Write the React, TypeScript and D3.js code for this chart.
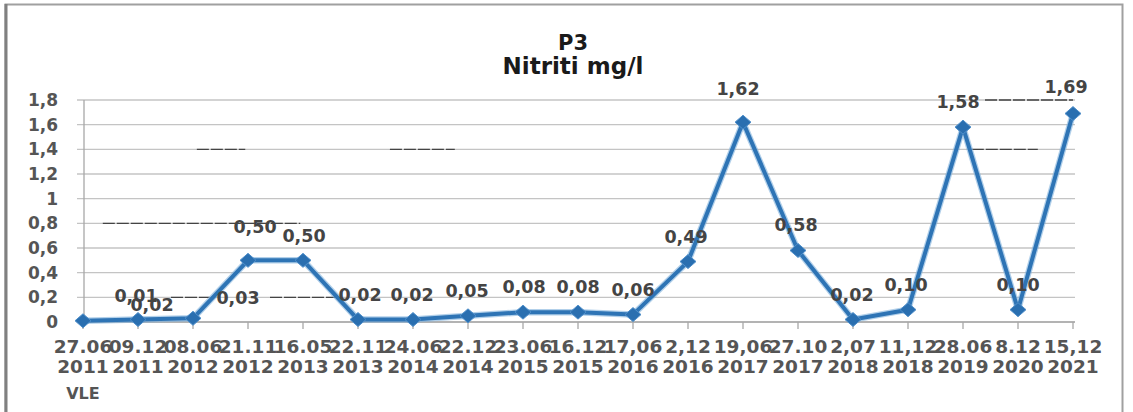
import * as d3 from "d3";

// sampling dates (two-line category labels)
const dates = ["27.06", "09.12", "08.06", "21.11", "16.05", "22.11", "24.06", "22.12", "23.06", "16.12", "17,06", "2,12", "19,06", "27.10", "2,07", "11,12", "28.06", "8.12", "15,12"];
const years = ["2011", "2011", "2012", "2012", "2013", "2013", "2014", "2014", "2015", "2015", "2016", "2016", "2017", "2017", "2018", "2018", "2019", "2020", "2021"];
const values = [0.01, 0.02, 0.03, 0.5, 0.5, 0.02, 0.02, 0.05, 0.08, 0.08, 0.06, 0.49, 1.62, 0.58, 0.02, 0.1, 1.58, 0.1, 1.69];
const labels = ["0,01", "0,02", "0,03", "0,50", "0,50", "0,02", "0,02", "0,05", "0,08", "0,08", "0,06", "0,49", "1,62", "0,58", "0,02", "0,10", "1,58", "0,10", "1,69"];
// manual data-label nudges (as placed in the original sheet)
const labelDx = [53, 14, 45, 7, 1, 2, -1, -1, 1, 0, 0, -2, -5, -2, -1, -2, -5, 0, -7];
const labelDy = [-19, -9, -14, -27, -18, -19, -19, -19, -19, -19, -19, -19, -27, -19, -19, -19, -19, -19, -21];
const yTicks = [0, 0.2, 0.4, 0.6, 0.8, 1, 1.2, 1.4, 1.6, 1.8];
// darker scan bleed-through pieces on gridlines: [fromIndex, toIndex, value]
const ghosts: [number, number, number][] = [
  [2.07, 2.95, 1.4],
  [5.58, 6.76, 1.4],
  [0.36, 3.95, 0.8],
  [1.6, 2.3, 0.2],
  [3.4, 4.6, 0.2],
  [16.4, 18, 1.8],
  [16.16, 17.36, 1.4],
];

const W = 1133;
const H = 412;
const font = "'DejaVu Sans', Verdana, sans-serif";

export default function App() {
  const x = d3.scaleLinear().domain([0, dates.length - 1]).range([83, 1073]);
  const y = d3.scaleLinear().domain([0, 1.8]).range([322, 100]);

  const line = d3
    .line<number>()
    .x((_, i) => x(i))
    .y((d) => y(d));

  const fmt = (v: number) => String(v).replace(".", ",");

  return (
    <svg
      width={W}
      height={H}
      style={{ position: "absolute", left: 0, top: 0, background: "#fff" }}
      fontFamily={font}
    >
      {/* chart frame */}
      <rect x={5.5} y={4.5} width={1117} height={430} fill="none" stroke="#a0a0a0" strokeWidth={2} />
      <line x1={6} x2={6} y1={4} y2={H} stroke="#808080" strokeWidth={3} />

      {/* title */}
      <text x={573} y={50} textAnchor="middle" fontSize={21} fontWeight="bold" fill="#1a1a1a">
        P3
      </text>
      <text x={573} y={74} textAnchor="middle" fontSize={23} fontWeight="bold" fill="#1a1a1a">
        Nitriti mg/l
      </text>

      {/* grid + y axis */}
      {yTicks.map((t) => (
        <g key={t}>
          <line x1={77} x2={1075} y1={y(t)} y2={y(t)} stroke="#c4c4c4" strokeWidth={1.3} />
          <text x={58} y={y(t) + 6} textAnchor="end" fontSize={17} fontWeight="bold" fill="#555">
            {fmt(t)}
          </text>
        </g>
      ))}
      {ghosts.map(([a, b, v], i) => (
        <line key={i} x1={x(a)} x2={x(b)} y1={y(v)} y2={y(v)} stroke="#444" strokeWidth={1.4} strokeDasharray="12 2" />
      ))}
      <line x1={84} x2={84} y1={y(1.8)} y2={y(0)} stroke="#a8a8a8" strokeWidth={1.3} />

      {/* x axis */}
      <line x1={84} x2={1075} y1={y(0)} y2={y(0)} stroke="#a8a8a8" strokeWidth={1.3} />
      {dates.map((d, i) => (
        <g key={i}>
          <line x1={x(i)} x2={x(i)} y1={y(0)} y2={y(0) + 7} stroke="#a8a8a8" strokeWidth={1.3} />
          <text x={x(i)} y={353} textAnchor="middle" fontSize={18.5} fontWeight="bold" fill="#555">
            {d}
          </text>
          <text x={x(i)} y={373} textAnchor="middle" fontSize={18.5} fontWeight="bold" fill="#555">
            {years[i]}
          </text>
        </g>
      ))}
      <text x={x(0)} y={399} textAnchor="middle" fontSize={16} fontWeight="bold" fill="#555">
        VLE
      </text>

      {/* series */}
      <path d={line(values) ?? ""} fill="none" stroke="#7fb0dc" strokeWidth={6.5} strokeLinejoin="round" opacity={0.6} />
      <path d={line(values) ?? ""} fill="none" stroke="#2e74b5" strokeWidth={4} strokeLinejoin="round" />
      {values.map((v, i) => (
        <path
          key={i}
          transform={`translate(${x(i)},${y(v)})`}
          d="M0,-7L8,0L0,7L-8,0Z"
          fill="#2a6fb0"
          stroke="#4f8fca"
          strokeWidth={1}
        />
      ))}

      {/* data labels */}
      {values.map((v, i) => (
        <text
          key={i}
          x={x(i) + labelDx[i]}
          y={y(v) + labelDy[i]}
          textAnchor="middle"
          fontSize={17.5}
          fontWeight="bold"
          fill="#444"
        >
          {labels[i]}
        </text>
      ))}
    </svg>
  );
}
